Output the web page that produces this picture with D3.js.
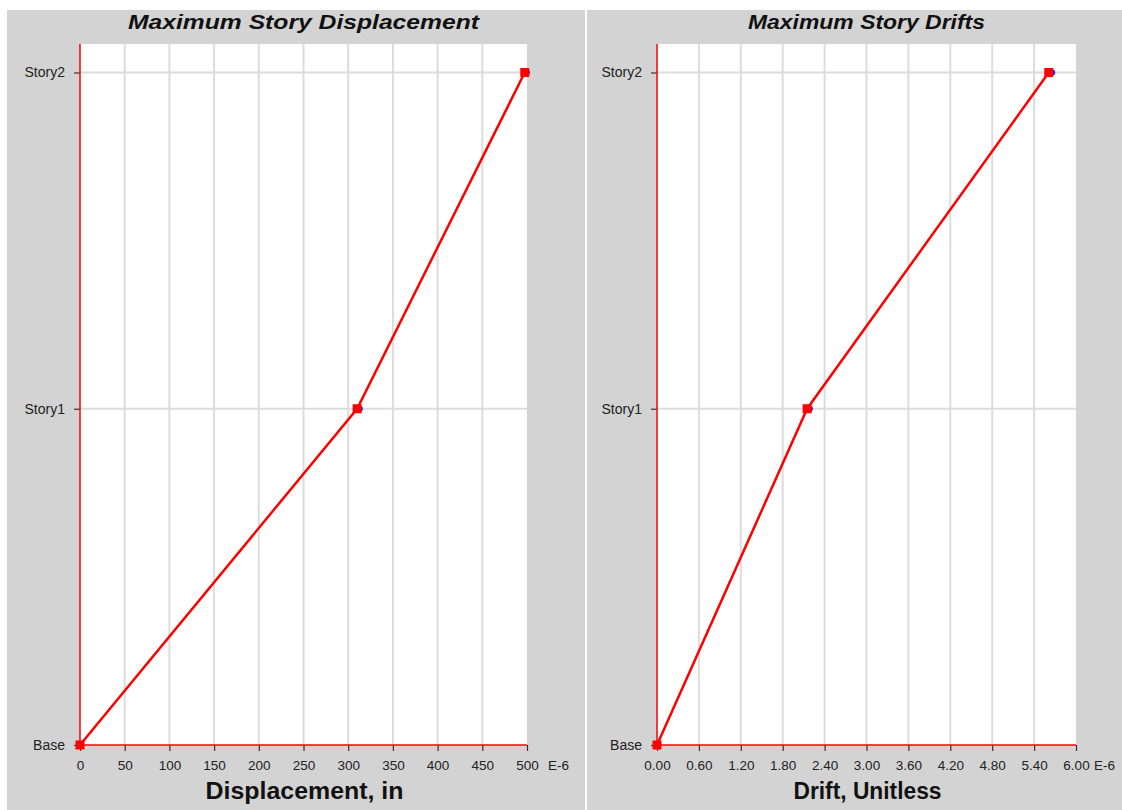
<!DOCTYPE html>
<html>
<head>
<meta charset="utf-8">
<script src="https://cdn.jsdelivr.net/npm/d3@7"></script>
<style>
  html, body { margin: 0; padding: 0; background: #ffffff; }
  svg { display: block; }
  text { font-family: "Liberation Sans", Arial, sans-serif; }
</style>
</head>
<body>
<svg id="chart" width="1122" height="810"></svg>
<script>
// Story levels, bottom to top
const stories = ["Base", "Story1", "Story2"];

// Maximum story displacement (E-6 in), two load directions
const dispX = [0, 310, 497.5];
const dispY = [0, 313, 500];
const dispTicks = [0, 50, 100, 150, 200, 250, 300, 350, 400, 450, 500];

// Maximum story drifts (E-6, unitless)
const driftX = [0, 2.15, 5.61];
const driftY = [0, 2.19, 5.66];
const driftTicks = [0, 0.6, 1.2, 1.8, 2.4, 3.0, 3.6, 4.2, 4.8, 5.4, 6.0];

const svg = d3.select("#chart");

function panel(opts) {
  const g = svg.append("g");
  // grey panel background
  g.append("rect")
    .attr("x", opts.px).attr("y", 10)
    .attr("width", opts.pw).attr("height", 800)
    .attr("fill", "#d3d3d3");

  const x = d3.scaleLinear().domain([0, opts.ticks[opts.ticks.length - 1]])
    .range([opts.left, opts.right]);
  const y = d3.scalePoint().domain(stories).range([745, 72.5]);

  // white plot area
  g.append("rect")
    .attr("x", opts.left).attr("y", opts.top)
    .attr("width", opts.right - opts.left).attr("height", 745 - opts.top)
    .attr("fill", "#ffffff");

  // grid lines
  g.append("g").selectAll("line.v").data(opts.ticks.slice(1, -1)).join("line")
    .attr("x1", d => x(d)).attr("x2", d => x(d))
    .attr("y1", opts.top).attr("y2", 745)
    .attr("stroke", "#dcdcdc").attr("stroke-width", 2);
  g.append("g").selectAll("line.h").data(stories.slice(1)).join("line")
    .attr("x1", opts.left).attr("x2", opts.right)
    .attr("y1", d => y(d)).attr("y2", d => y(d))
    .attr("stroke", "#dcdcdc").attr("stroke-width", 2);

  // axes
  const xAxis = g.append("g").attr("transform", "translate(0,745)")
    .call(d3.axisBottom(x).tickValues(opts.ticks).tickFormat(opts.fmt).tickSize(6).tickPadding(9));
  const yAxis = g.append("g").attr("transform", `translate(${opts.left},0)`)
    .call(d3.axisLeft(y).tickSize(6).tickPadding(9));
  [xAxis, yAxis].forEach(a => {
    a.select(".domain").remove();
    a.selectAll(".tick line").attr("stroke", "#333").attr("stroke-width", 1.2);
    a.selectAll(".tick text").attr("fill", "#222").attr("font-size", 13.5)
      .attr("font-family", '"Liberation Sans", Arial, sans-serif');
  });
  yAxis.selectAll(".tick text").attr("font-size", 14);

  // red axis lines
  g.append("line").attr("x1", opts.left).attr("x2", opts.left)
    .attr("y1", opts.top).attr("y2", 745)
    .attr("stroke", "#ff0000").attr("stroke-width", 1.5);
  g.append("line").attr("x1", opts.left).attr("x2", opts.right)
    .attr("y1", 745).attr("y2", 745)
    .attr("stroke", "#ff0000").attr("stroke-width", 1.5);

  // exponent label after last tick
  g.append("text")
    .attr("x", opts.right + opts.expOffset).attr("y", 770)
    .attr("fill", "#222").attr("font-size", 13.5)
    .text("E-6");

  // titles
  const cx = (opts.left + opts.right) / 2;
  g.append("text").attr("x", cx).attr("y", 29)
    .attr("text-anchor", "middle").attr("fill", "#111")
    .attr("textLength", opts.titleLen).attr("lengthAdjust", "spacingAndGlyphs")
    .style("font-size", "21px").style("font-weight", "bold").style("font-style", "italic")
    .text(opts.title);
  g.append("text").attr("x", cx + 1).attr("y", 799)
    .attr("text-anchor", "middle").attr("fill", "#111")
    .attr("textLength", opts.xTitleLen).attr("lengthAdjust", "spacingAndGlyphs")
    .style("font-size", "23px").style("font-weight", "bold")
    .text(opts.xTitle);

  // series Y (blue circles) under series X (red squares with line)
  const line = d3.line().x(d => x(d.v)).y(d => y(d.s));
  const sy = opts.sy.map((v, i) => ({ v, s: stories[i] }));
  const sx = opts.sx.map((v, i) => ({ v, s: stories[i] }));
  g.append("g").selectAll("circle").data(sy).join("circle")
    .attr("cx", d => x(d.v)).attr("cy", d => y(d.s)).attr("r", 3)
    .attr("fill", "#2020ff");
  g.append("path").datum(sx).attr("d", line)
    .attr("fill", "none").attr("stroke", "#ff0000").attr("stroke-width", 2.5);
  g.append("g").selectAll("rect.m").data(sx).join("rect")
    .attr("x", d => x(d.v) - 4.5).attr("y", d => y(d.s) - 4.5)
    .attr("width", 9).attr("height", 9).attr("fill", "#ff0000");
}

panel({
  px: 7, pw: 578, left: 80, right: 527, top: 44,
  ticks: dispTicks, fmt: d3.format("d"), expOffset: 21,
  title: "Maximum Story Displacement", titleLen: 351,
  xTitle: "Displacement, in", xTitleLen: 198,
  sx: dispX, sy: dispY
});
panel({
  px: 587, pw: 535, left: 657, right: 1076, top: 44,
  ticks: driftTicks, fmt: d3.format(".2f"), expOffset: 18,
  title: "Maximum Story Drifts", titleLen: 237,
  xTitle: "Drift, Unitless", xTitleLen: 148,
  sx: driftX, sy: driftY
});
</script>
</body>
</html>
